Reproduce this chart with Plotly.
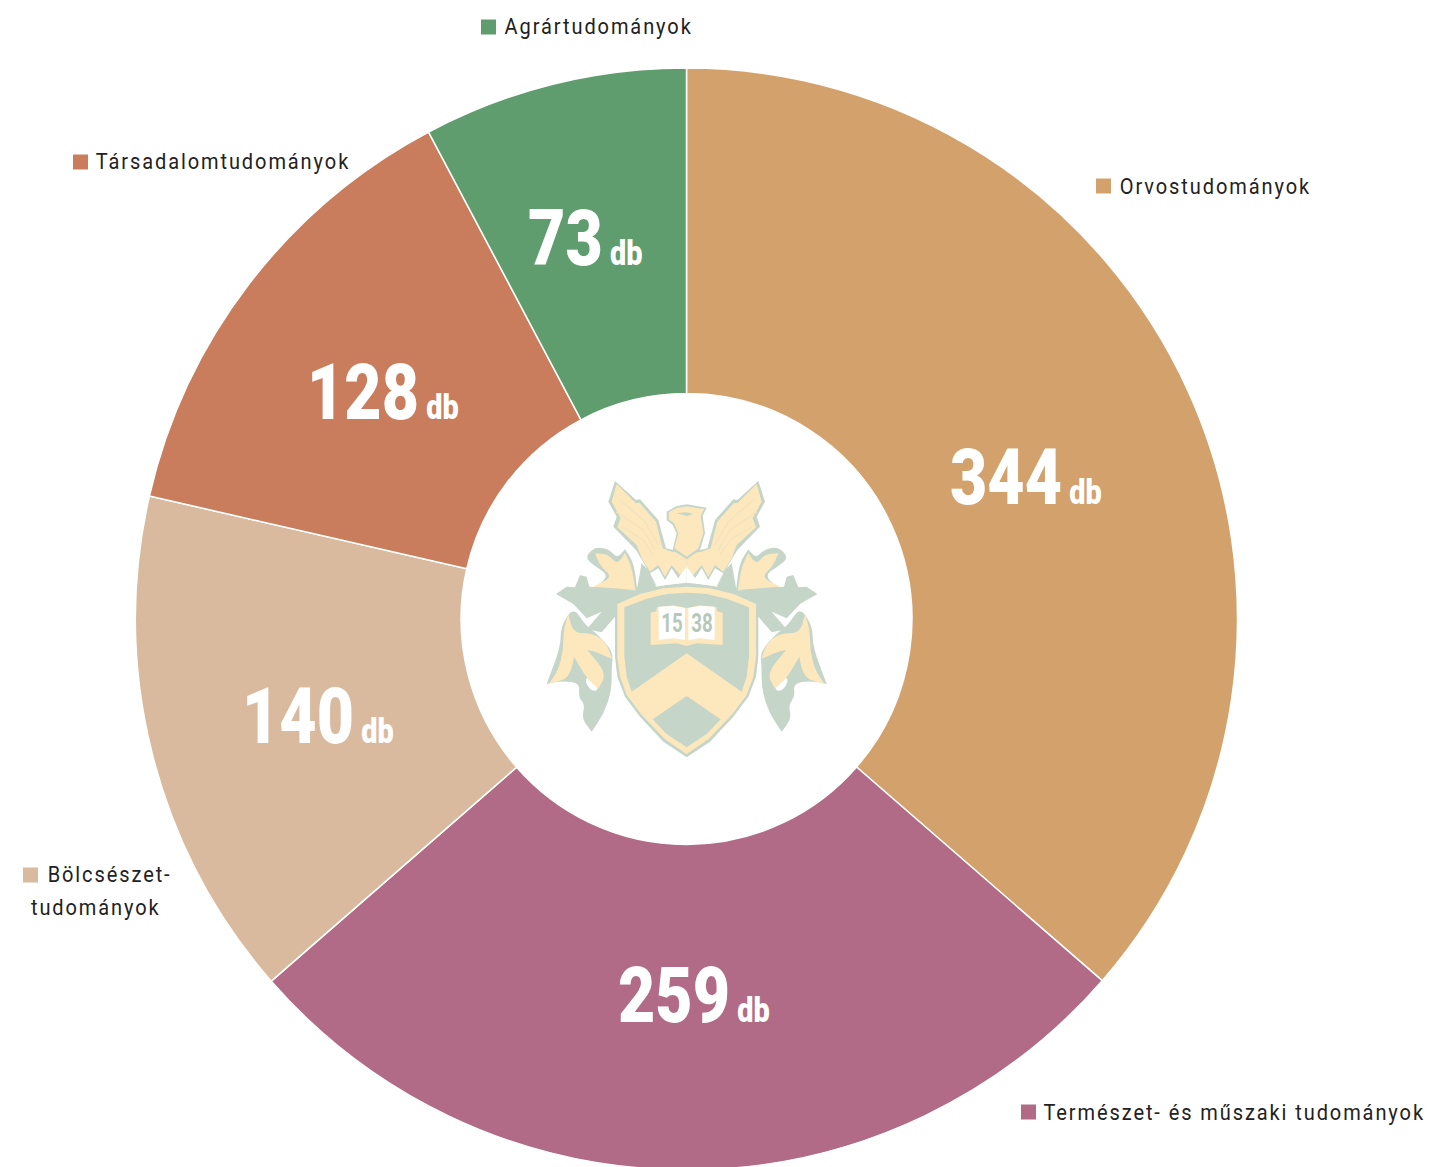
import plotly.graph_objects as go

categories = ["Orvostudományok", "Természet- és műszaki tudományok", "Bölcsészet-<br>tudományok",
              "Társadalomtudományok", "Agrártudományok"]
values = [344, 259, 140, 128, 73]            # printed on the chart
slice_sizes = [343.6, 256.7, 141.6, 129, 73.2]
colors = ["#D3A16C", "#B16B86", "#DABA9E", "#C97D5D", "#5F9D6F"]
unit = "db"

W, H = 1430, 1172
CX, CY, R = 686.5, 619, 551

value_pos = [(1026, 477), (694, 995), (318, 716), (383, 393), (585, 238)]
legend_pos = [(1096, 186), (1021, 1112), (23, 875), (73, 162), (481, 27)]
# centre x of every legend text line
legend_text_x = [[1215.5], [1234.5], [109, 96], [223], [599]]

px = lambda x: x / W
py = lambda y: 1 - y / H

fig = go.Figure(go.Pie(
    labels=categories, values=slice_sizes, sort=False, direction="clockwise", rotation=0,
    hole=225 / 550, textinfo="none", hoverinfo="label", showlegend=False,
    marker=dict(colors=colors, line=dict(color="white", width=1.5)),
    domain=dict(x=[px(CX - R), px(CX + R)], y=[py(CY + R), py(CY - R)]),
))

annotations = []
shapes = []

for v, (x, y) in zip(values, value_pos):
    annotations.append(dict(
        x=px(x), y=py(y), xref="paper", yref="paper", xanchor="center", yanchor="middle", showarrow=False,
        text=f"{v}<span style='font-size:35px'> {unit}</span>",
        font=dict(family="Roboto", size=78, color="white", weight=900)))

for c, col, (x, y), centres in zip(categories, colors, legend_pos, legend_text_x):
    shapes.append(dict(type="rect", xref="paper", yref="paper", x0=px(x), x1=px(x + 15),
                       y0=py(y - 7.5), y1=py(y + 7.5), fillcolor=col, line_width=0))
    for i, (line, tx) in enumerate(zip(c.split("<br>"), centres)):
        annotations.append(dict(
            x=px(tx), y=py(y + 32 * i), xref="paper", yref="paper", xanchor="center", yanchor="middle",
            showarrow=False, text=line, font=dict(family="Roboto", size=22, color="#222222")))

# University crest drawn as decoration (coordinates in a local 3x crest space)
GREEN, CREAM = "#C5D5C8", "#FDE8BE"
lx = lambda x: 530 + x / 3
ly = lambda y: 470 + y / 3


def poly(points, fill, mirror=False, smooth=False):
    """Closed outline; in smooth mode a point given as (x, y, 1) stays a sharp corner."""
    pts = [(940 - p[0] if mirror else p[0], p[1], len(p) > 2) for p in points]
    P = [(px(lx(x)), py(ly(y)), s) for x, y, s in pts]
    if smooth:
        n = len(P)
        mid = lambda a, b: ((a[0] + b[0]) / 2, (a[1] + b[1]) / 2)
        m0 = mid(P[-1], P[0])
        d = f"M{m0[0]:.5f},{m0[1]:.5f}"
        for i in range(n):
            m = mid(P[i], P[(i + 1) % n])
            if P[i][2]:
                d += f" L{P[i][0]:.5f},{P[i][1]:.5f} L{m[0]:.5f},{m[1]:.5f}"
            else:
                d += f" Q{P[i][0]:.5f},{P[i][1]:.5f} {m[0]:.5f},{m[1]:.5f}"
        d += " Z"
    else:
        d = "M" + " L".join(f"{a:.5f},{b:.5f}" for a, b, _ in P) + " Z"
    shapes.append(dict(type="path", xref="paper", yref="paper", path=d, fillcolor=fill, line_width=0, layer="above"))


def both(points, fill, smooth=True):
    poly(points, fill, smooth=smooth)
    poly(points, fill, mirror=True, smooth=smooth)


def stroke(points, color, width=1.0):
    for mirror in (False, True):
        pts = [(940 - x if mirror else x, y) for x, y in points]
        d = "M" + " L".join(f"{px(lx(x)):.5f},{py(ly(y)):.5f}" for x, y in pts)
        shapes.append(dict(type="path", xref="paper", yref="paper", path=d,
                           line=dict(color=color, width=width), layer="above"))


# mantle
mantle = [(78, 372), (110, 350), (135, 352), (150, 315), (170, 320), (178, 350), (320, 362), (335, 280), (355, 300), (378, 350),
          (470, 335), (470, 420), (255, 440), (215, 487), (170, 478), (215, 425), (170, 445), (130, 402)]
both(mantle, GREEN, smooth=False)
top_leaf_g = [(165, 262), (195, 230), (238, 238), (262, 265), (285, 238, 1), (312, 280), (322, 362, 1), (185, 358, 1), (240, 318), (190, 285)]
both(top_leaf_g, GREEN)
top_leaf_c = [(195, 250, 1), (235, 252), (262, 285), (285, 248, 1), (305, 290), (316, 360, 1), (188, 350, 1), (248, 322), (212, 290)]
both(top_leaf_c, CREAM)
low_g = [(130, 410), (92, 470), (92, 530), (50, 642, 1), (100, 632), (150, 640), (145, 680), (165, 705), (155, 745), (185, 785, 1), (222, 730), (245, 660), (245, 590), (250, 545), (200, 490), (165, 465)]
both(low_g, GREEN)
low_white = [(162, 625), (180, 662), (208, 662), (190, 620)]
both(low_white, "#FFFFFF")
low_c = [(115, 432, 1), (130, 490), (190, 490), (230, 520), (246, 566, 1), (195, 545), (172, 540, 1), (230, 610), (205, 656, 1), (170, 625), (132, 560, 1), (125, 600), (105, 630), (58, 640, 1), (85, 600), (100, 540), (100, 480)]
both(low_c, CREAM)

# griffin
wing_g = [(255, 33), (318, 90), (330, 88), (385, 150), (408, 235), (470, 250), (470, 335), (378, 348), (345, 285), (318, 240), (250, 170), (260, 140), (235, 95)]
both(wing_g, GREEN, smooth=False)
fringe_white = [(360, 310), (385, 295), (405, 330), (425, 295), (445, 325), (470, 285), (470, 338), (380, 348)]
both(fringe_white, "#FFFFFF", smooth=False)
wing_c = [(260, 42), (318, 100), (328, 98), (378, 155), (398, 235), (425, 245), (470, 250), (470, 290), (450, 315), (425, 285), (405, 320), (385, 285), (360, 305), (335, 265), (320, 225), (262, 172), (272, 145), (245, 95)]
both(wing_c, CREAM, smooth=False)
for f in ([(268, 88), (345, 155), (385, 225)], [(258, 125), (340, 180), (375, 240)], [(275, 170), (340, 210), (370, 255)]):
    stroke(f, "#EFE3BE", 1.2)
head_g = [(410, 125), (440, 108), (470, 103), (530, 113), (518, 138), (525, 190), (510, 240), (470, 268), (428, 240), (440, 190), (428, 165), (410, 150)]
poly(head_g, GREEN)
head_c = [(416, 127), (442, 113), (470, 109), (523, 117), (512, 138), (520, 190), (505, 235), (470, 260), (433, 235), (445, 190), (432, 160), (416, 148)]
poly(head_c, CREAM)
poly([(440, 130), (470, 127), (490, 132), (470, 138)], GREEN)

# shield
outer = [(255, 398), (330, 365), (400, 348), (470, 342), (540, 348), (610, 365), (685, 398), (685, 560), (678, 620), (655, 680), (610, 740), (540, 815), (470, 862),
         (400, 815), (330, 740), (285, 680), (262, 620), (255, 560)]
poly(outer, GREEN)
border = [(262, 402), (330, 372), (400, 355), (470, 350), (540, 355), (610, 372), (678, 402), (678, 560), (670, 620), (650, 675), (605, 735), (535, 808), (470, 852),
          (405, 808), (335, 735), (290, 675), (270, 620), (262, 560)]
poly(border, CREAM)
field = [(283, 412), (350, 386), (410, 372), (470, 368), (530, 372), (590, 386), (657, 412), (657, 560), (650, 620), (635, 665), (470, 550), (305, 665), (290, 620), (283, 560)]
poly(field, GREEN)
poly([(470, 678), (572, 748), (530, 792), (470, 832), (410, 792), (368, 748)], GREEN)

# book
poly([(362, 428), (380, 424), (380, 412), (430, 406), (470, 414), (510, 406), (560, 412), (560, 424), (578, 428), (578, 525), (500, 520), (470, 528), (440, 520), (362, 525)], CREAM)
poly([(386, 410), (430, 408), (465, 414), (465, 510), (430, 505), (386, 510)], "#FFFFFF")
poly([(475, 414), (510, 408), (554, 410), (554, 510), (510, 505), (475, 510)], "#FFFFFF")
for t, x in (("15", 671.7), ("38", 701.7)):
    annotations.append(dict(x=px(x), y=py(623), xref="paper", yref="paper", showarrow=False, xanchor="center", text=t,
                            font=dict(family="Roboto", size=26, color="#B5C8BA", weight=700)))

fig.update_layout(width=W, height=H, margin=dict(l=0, r=0, t=0, b=0), autosize=False,
                  paper_bgcolor="white", plot_bgcolor="white", annotations=annotations, shapes=shapes)

js = """
document.body.style.margin='0';document.documentElement.style.overflow='hidden';
document.querySelectorAll('text.annotation-text').forEach(function(t){
  var fs=parseFloat(t.style.fontSize)||parseFloat(getComputedStyle(t).fontSize);
  var s=1,ls=null;
  if(fs>=60){s=0.825;}
  else if(fs==22){s=0.91;ls='2.1px';}
  else if(fs==26){s=0.72;}
  if(ls){t.style.letterSpacing=ls;}
  var x=parseFloat(t.getAttribute('x'));
  t.setAttribute('transform','translate('+x+',0) scale('+s+',1) translate('+(-x)+',0)');
});
"""
fig.write_html("out.html", config=dict(displayModeBar=False), post_script=js)
